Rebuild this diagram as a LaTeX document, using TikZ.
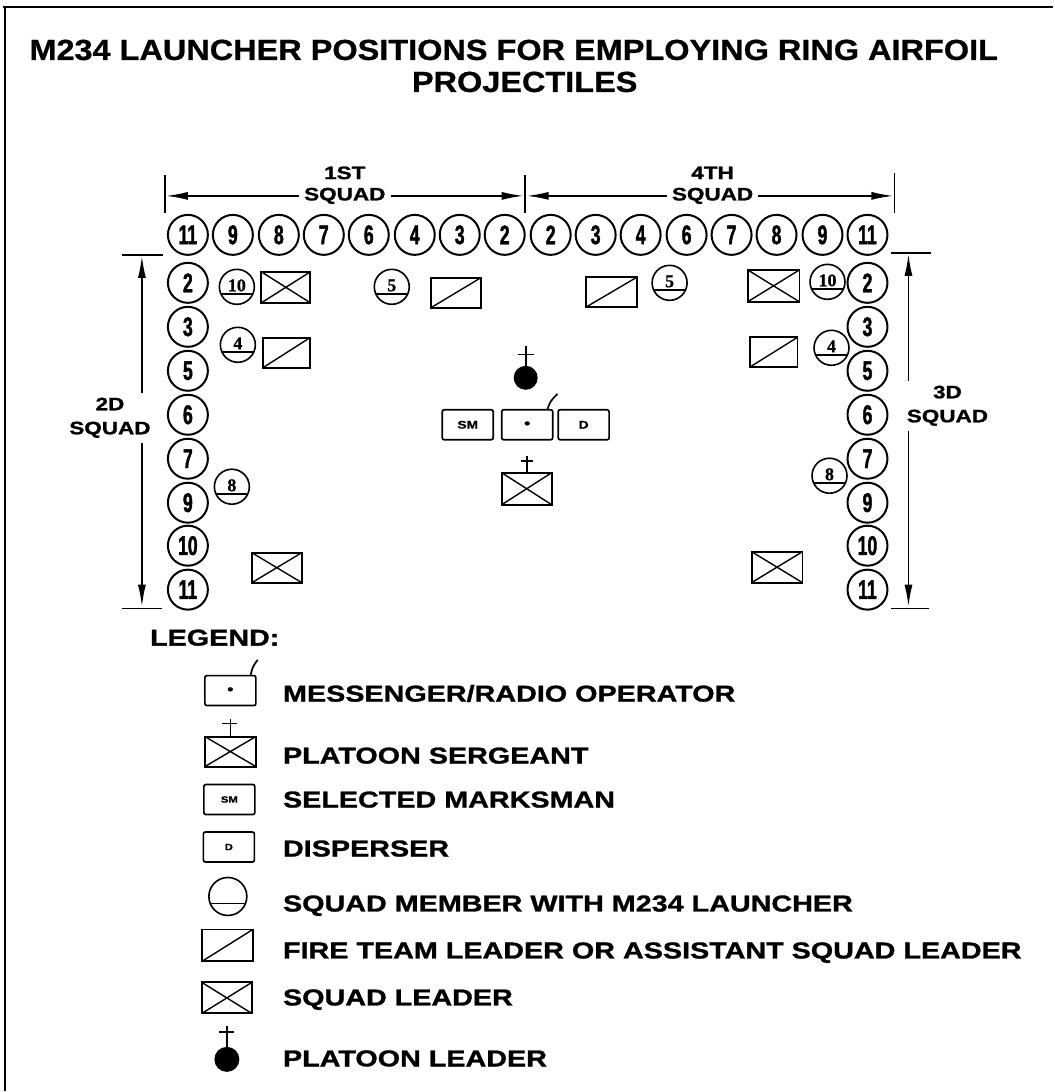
\documentclass[tikz,border=0pt]{standalone}
\usepackage{fontspec}
\setmainfont{Liberation Sans}
\newfontfamily\titlefont[FakeStretch=1.12,FakeBold=0.8]{Liberation Sans}
\newfontfamily\widefont[FakeStretch=1.25,FakeBold=1.2]{Liberation Sans}
\newfontfamily\digitfont[FakeStretch=0.65,FakeBold=1.5]{Liberation Sans}
\newfontfamily\launchfont[FakeBold=0.8]{Liberation Serif}
\usetikzlibrary{arrows.meta,positioning}

\tikzset{
  member/.style={circle, draw, line width=2pt, minimum size=40pt, inner sep=0pt, font=\digitfont\bfseries\fontsize{27}{27}\selectfont},
  launcher/.style={circle, draw, line width=1.6pt, minimum size=35pt, inner sep=0pt, font=\launchfont\bfseries\fontsize{18}{18}\selectfont,
    path picture={\draw[line width=1.6pt] ([yshift=-7pt]path picture bounding box.west) -- ([yshift=-7pt]path picture bounding box.east);}},
  sqldr/.style={draw, line width=1.9pt, minimum width=49pt, minimum height=31pt, inner sep=0pt,
    path picture={\draw[line width=1.4pt] (path picture bounding box.south west) -- (path picture bounding box.north east)
      (path picture bounding box.north west) -- (path picture bounding box.south east);}},
  ftldr/.style={draw, line width=1.9pt, minimum width=50pt, minimum height=30pt, inner sep=0pt,
    path picture={\draw[line width=1.4pt] (path picture bounding box.south west) -- (path picture bounding box.north east);}},
  hqbox/.style={draw, line width=1.7pt, rounded corners=2pt, minimum width=51pt, minimum height=30pt, inner sep=0pt, font=\widefont\bfseries\fontsize{11}{11}\selectfont},
  squadlbl/.style={font=\widefont\bfseries\fontsize{18}{24}\selectfont, inner sep=5pt, align=center},
  legtext/.style={anchor=base west, inner sep=0pt, font=\widefont\bfseries\fontsize{23}{23}\selectfont},
  dim/.style={line width=1.7pt, -{Latex[length=22pt,width=8pt]}},
  tick/.style={line width=1.7pt}
}

\begin{document}
\begin{tikzpicture}[x=1pt, y=-1pt]
\fill[white] (0,0) rectangle (1054,1092);
\draw[line width=1.8pt] (3,7) -- (1054,7);
\draw[line width=1.3pt] (5,7) -- (5,1092);

\node[font=\titlefont\bfseries\fontsize{29}{29}\selectfont] (title) at (514,50) {M234 LAUNCHER POSITIONS FOR EMPLOYING RING AIRFOIL};
\node[font=\titlefont\bfseries\fontsize{29}{29}\selectfont] (title2) at (525,82) {PROJECTILES};

% squad frontages
\node[squadlbl] (sq1n) at (345,173) {1ST};
\node[squadlbl] (sq1) at (345,196) {SQUAD};
\node[squadlbl] (sq4n) at (713,173) {4TH};
\node[squadlbl] (sq4) at (713,196) {SQUAD};
\coordinate (t1) at (166,196);
\coordinate (t2) at (524,196);
\coordinate (t3) at (527,196);
\coordinate (t4) at (894,196);
\draw[tick] (165,175) -- (165,213);
\draw[tick] (525.5,175) -- (525.5,213);
\draw[tick] (895,173) -- (895,213);
\draw[dim] (sq1.west) -- (t1);
\draw[dim] (sq1.east) -- (t2);
\draw[dim] (sq4.west) -- (t3);
\draw[dim] (sq4.east) -- (t4);

\node[squadlbl] (sq2) at (110,418) {2D\\SQUAD};
\node[squadlbl] (sq3) at (948,406) {3D\\SQUAD};
\coordinate (v1) at (142,256);
\coordinate (v2) at (142,607);
\coordinate (v3) at (909,254);
\coordinate (v4) at (909,607);
\draw[tick] (122,255) -- (163,255);
\draw[tick] (122,609) -- (162,609);
\draw[tick] (892,253) -- (932,253);
\draw[tick] (892,609) -- (930,609);
\draw[dim] (sq2.north -| v1) -- (v1);
\draw[dim] (sq2.south -| v2) -- (v2);
\draw[dim] (sq3.north -| v3) -- (v3);
\draw[dim] (sq3.south -| v4) -- (v4);

% front rank
\node[member] (a1) at (188,235) {11};
\node[member] (a2) at (233,235) {9};
\node[member] (a3) at (279,235) {8};
\node[member] (a4) at (324,235) {7};
\node[member] (a5) at (369,235) {6};
\node[member] (a6) at (415,235) {4};
\node[member] (a7) at (460,235) {3};
\node[member] (a8) at (505,235) {2};
\node[member] (a9) at (551,235) {2};
\node[member] (a10) at (596,235) {3};
\node[member] (a11) at (641,235) {4};
\node[member] (a12) at (687,235) {6};
\node[member] (a13) at (732,235) {7};
\node[member] (a14) at (777,235) {8};
\node[member] (a15) at (823,235) {9};
\node[member] (a16) at (868,235) {11};

% flanks
\node[member] (l1) at (188,283) {2};
\node[member] (l2) at (188,327) {3};
\node[member] (l3) at (188,371) {5};
\node[member] (l4) at (188,415) {6};
\node[member] (l5) at (188,459) {7};
\node[member] (l6) at (188,503) {9};
\node[member] (l7) at (188,546) {10};
\node[member] (l8) at (188,590) {11};
\node[member] (r1) at (868,283) {2};
\node[member] (r2) at (868,327) {3};
\node[member] (r3) at (868,371) {5};
\node[member] (r4) at (868,415) {6};
\node[member] (r5) at (868,459) {7};
\node[member] (r6) at (868,503) {9};
\node[member] (r7) at (868,546) {10};
\node[member] (r8) at (868,590) {11};

% launchers and leaders
\node[launcher] (m10l) at (237,287) {\raisebox{3pt}{10}};
\node[launcher] (m5l) at (392,287) {\raisebox{3pt}{5}};
\node[launcher] (m4l) at (238,345) {\raisebox{3pt}{4}};
\node[launcher] (m8l) at (232,487) {\raisebox{3pt}{8}};
\node[launcher] (m5r) at (670,283) {\raisebox{3pt}{5}};
\node[launcher] (m10r) at (828,282) {\raisebox{3pt}{10}};
\node[launcher] (m4r) at (832,348) {\raisebox{3pt}{4}};
\node[launcher] (m8r) at (830,476) {\raisebox{3pt}{8}};
\node[sqldr] (sl1) at (286,287.5) {};
\node[sqldr, minimum width=50pt, minimum height=30pt] (sl2) at (277,568) {};
\node[sqldr, minimum width=52pt, minimum height=32pt] (sl3) at (774,286) {};
\node[sqldr, minimum width=51pt, minimum height=31pt] (sl4) at (777.5,567.5) {};
\node[ftldr] (ft1) at (456,293) {};
\node[ftldr, minimum width=47pt] (ft2) at (286.5,353) {};
\node[ftldr, minimum width=51pt] (ft3) at (611.5,292.5) {};
\node[ftldr, minimum width=48pt] (ft4) at (774,352.5) {};

% platoon headquarters
\node[circle, fill, minimum size=24pt, inner sep=0pt] (pl) at (526,378) {};
\draw[line width=1.8pt] (pl.north) -- ++(0,-20) (pl.north) ++(-8,-11) -- ++(16,0);
\node[hqbox] (sm) at (468,425) {SM};
\node[hqbox] (rad) at (527.5,425) {\fontsize{14}{14}\selectfont\textbullet};
\node[hqbox] (dsp) at (584,425) {D};
\draw[line width=1.7pt] ([xshift=-6pt]rad.north east) .. controls ([xshift=-3pt,yshift=8pt]rad.north east) .. ([xshift=4pt,yshift=15pt]rad.north east);
\node[sqldr, minimum width=50pt, minimum height=32pt] (psg) at (527,489) {};
\draw[line width=1.7pt] (psg.north) -- ++(0,-16) (psg.north) ++(-6,-11) -- ++(12,0);

% legend
\node[legtext] (leg) at (150,646) {LEGEND:};
\node[hqbox] (lrad) at (230.5,691) {\fontsize{14}{14}\selectfont\textbullet};
\draw[line width=1.7pt] ([xshift=-6pt]lrad.north east) .. controls ([xshift=-4pt,yshift=8pt]lrad.north east) .. ([xshift=1pt,yshift=15pt]lrad.north east);
\node[legtext] (lrad-t) at (283,702) {MESSENGER/RADIO OPERATOR};
\node[sqldr, minimum width=51pt, minimum height=30pt] (lpsg) at (230.5,752) {};
\draw[line width=1.6pt] (lpsg.north) -- ++(0,-17) (lpsg.north) ++(-8,-12) -- ++(15,0);
\node[legtext] (lpsg-t) at (283,764) {PLATOON SERGEANT};
\node[hqbox, font=\widefont\bfseries\fontsize{9}{9}\selectfont] (lsm) at (229.5,800) {SM};
\node[legtext] (lsm-t) at (283,808) {SELECTED MARKSMAN};
\node[hqbox, font=\widefont\bfseries\fontsize{9}{9}\selectfont] (ld) at (229,847.5) {D};
\node[legtext] (ld-t) at (283,857) {DISPERSER};
\node[launcher, minimum size=38pt] (lsqm) at (228,897) {};
\node[legtext] (lsqm-t) at (283,912) {SQUAD MEMBER WITH M234 LAUNCHER};
\node[ftldr, minimum width=51pt, minimum height=32pt] (lft) at (227.5,946) {};
\node[legtext] (lft-t) at (283,959) {FIRE TEAM LEADER OR ASSISTANT SQUAD LEADER};
\node[sqldr, minimum width=50pt, minimum height=31pt] (lsl) at (227,998.5) {};
\node[legtext] (lsl-t) at (283,1006) {SQUAD LEADER};
\node[circle, fill, minimum size=25pt, inner sep=0pt] (lpl) at (227,1060) {};
\draw[line width=1.8pt] (lpl.north) -- ++(0,-21) (lpl.north) ++(-8,-15) -- ++(15,0);
\node[legtext] (lpl-t) at (283,1067) {PLATOON LEADER};
\end{tikzpicture}
\end{document}
